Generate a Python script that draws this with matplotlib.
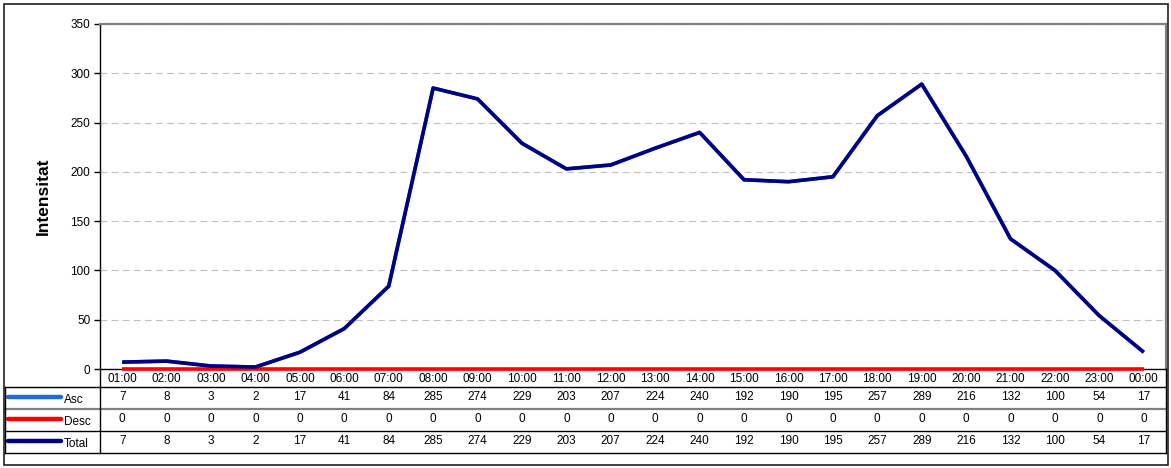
import numpy as np
import matplotlib.pyplot as plt

plt.rcParams['font.family'] = ['Liberation Sans', 'DejaVu Sans']

hours = ["01:00", "02:00", "03:00", "04:00", "05:00", "06:00", "07:00", "08:00",
         "09:00", "10:00", "11:00", "12:00", "13:00", "14:00", "15:00", "16:00",
         "17:00", "18:00", "19:00", "20:00", "21:00", "22:00", "23:00", "00:00"]
asc = [7, 8, 3, 2, 17, 41, 84, 285, 274, 229, 203, 207, 224, 240, 192, 190,
       195, 257, 289, 216, 132, 100, 54, 17]
desc = [0] * 24
total = [7, 8, 3, 2, 17, 41, 84, 285, 274, 229, 203, 207, 224, 240, 192, 190,
         195, 257, 289, 216, 132, 100, 54, 17]

series = [("Asc", asc, "#1f6fd0"), ("Desc", desc, "#ff0000"), ("Total", total, "#000080")]

W, H = 1171, 468
fig = plt.figure(figsize=(W / 100, H / 100), dpi=100)

# main plot area (pixels: x 100..1166, y 24..369)
ax = fig.add_axes([100 / W, (H - 369) / H, 1066 / W, 345 / H])
x = np.arange(len(hours))
for name, vals, col in series:
    ax.plot(x, vals, color=col, lw=2.6, solid_capstyle="butt", zorder=3, clip_on=False)

ax.set_xlim(-0.5, len(hours) - 0.5)
ax.set_ylim(0, 350)
ax.set_yticks(range(0, 351, 50))
ax.set_xticks([])
ax.tick_params(axis="y", labelsize=8.5, length=4, width=1, pad=3)
ax.yaxis.grid(True, color="#c0c0c0", linestyle=(0, (6, 4)), lw=0.8)
ax.set_axisbelow(True)
for s in ["top", "right"]:
    ax.spines[s].set_color("#808080")
    ax.spines[s].set_linewidth(1.6)
for s in ["left", "bottom"]:
    ax.spines[s].set_color("black")
    ax.spines[s].set_linewidth(1.0)
ax.set_ylabel("Intensitat", fontsize=12.5, fontweight="bold", labelpad=14)

# data table under the plot
tax = fig.add_axes([100 / W, (H - 453) / H, 1066 / W, 84 / H])
tax.set_xlim(-0.5, len(hours) - 0.5)
tax.set_ylim(453, 369)
tax.axis("off")

left_edge = -0.5 - 95 / (1066 / 24)
right_edge = len(hours) - 0.5

for i, h in enumerate(hours):
    tax.text(i, 379, h, ha="center", va="center", fontsize=8.5)

row_tops = [387, 409, 431]
row_h = 22
for (name, vals, col), top in zip(series, row_tops):
    ymid = top + row_h / 2
    for i, v in enumerate(vals):
        tax.text(i, ymid - 1, str(v), ha="center", va="center", fontsize=8.5)
    tax.plot([left_edge + 0.07, left_edge + 1.25], [ymid - 1, ymid - 1], color=col,
             lw=3.2, solid_capstyle="round", clip_on=False)
    tax.text(left_edge + 1.32, ymid + 2, name, ha="left", va="center", fontsize=8.5,
             clip_on=False)

# table grid lines
tax.plot([left_edge, right_edge], [387, 387], color="black", lw=1.0, clip_on=False)
tax.plot([left_edge, right_edge], [409, 409], color="#808080", lw=1.6, clip_on=False)
tax.plot([left_edge, right_edge], [431, 431], color="black", lw=1.0, clip_on=False)
tax.plot([left_edge, right_edge], [453, 453], color="black", lw=1.0, clip_on=False)
tax.plot([-0.5, -0.5], [369, 453], color="black", lw=1.0, clip_on=False)
tax.plot([left_edge, left_edge], [387, 453], color="black", lw=1.0, clip_on=False)
tax.plot([right_edge, right_edge], [369, 453], color="black", lw=1.0, clip_on=False)

# outer chart border
fig.patches.append(plt.Rectangle((4 / W, 3 / H), 1164 / W, 461 / H, transform=fig.transFigure,
                                 fill=False, edgecolor="#202020", lw=1.2))

fig.savefig("out.png", dpi=100)
